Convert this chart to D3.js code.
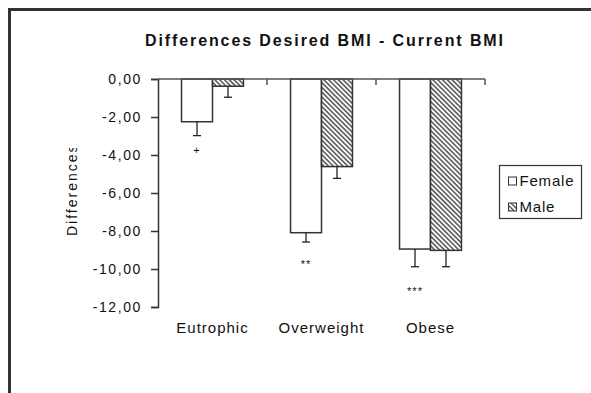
<!DOCTYPE html>
<html>
<head>
<meta charset="utf-8">
<script src="https://cdn.jsdelivr.net/npm/d3@7"></script>
<style>
  body { margin: 0; background: #fff; }
  svg text { font-family: "Liberation Sans", Arial, sans-serif; fill: #111; }
</style>
</head>
<body>
<svg width="591" height="393"></svg>
<script>
// chart data
var categories = ["Eutrophic", "Overweight", "Obese"];
var series = ["Female", "Male"];
var femaleValues = [-2.25, -8.09, -8.95];
var maleValues = [-0.38, -4.61, -9.02];
var femaleErrors = [0.73, 0.49, 0.93];
var maleErrors = [0.58, 0.62, 0.86];
var sigMarks = ["+", "**", "***"];       // shown under female bars
var sigLevels = [-3.74, -9.6, -11.0];    // where the marks sit on the y scale
var yTicks = [0, -2, -4, -6, -8, -10, -12];

var svg = d3.select("svg"),
    width = +svg.attr("width"),
    height = +svg.attr("height");

var plotLeft = 158, plotRight = 485, plotTop = 79, plotBottom = 307;

// frame (only left and top edges are visible)
svg.append("path")
  .attr("d", "M9.5," + height + "V9.5H" + width)
  .attr("fill", "none")
  .attr("stroke", "#333")
  .attr("stroke-width", 3);

// hatch pattern for the male bars
var defs = svg.append("defs");
var pat = defs.append("pattern")
  .attr("id", "hatch")
  .attr("patternUnits", "userSpaceOnUse")
  .attr("width", 3.4)
  .attr("height", 3.4)
  .attr("patternTransform", "rotate(-45)");
pat.append("rect").attr("width", 3.4).attr("height", 3.4).attr("fill", "#fff");
pat.append("line")
  .attr("x1", 0.8).attr("x2", 0.8).attr("y1", 0).attr("y2", 3.4)
  .attr("stroke", "#444").attr("stroke-width", 1.4);

// the original cuts the top of the y label off
defs.append("clipPath").attr("id", "ylabclip")
  .append("rect").attr("x", 0).attr("y", 148).attr("width", 150).attr("height", 200);

// scales
var x = d3.scaleBand().domain(categories).range([plotLeft, plotRight]).padding(0);
var xSub = d3.scaleBand().domain(series).range([0, x.bandwidth()]).paddingInner(0).paddingOuter(0.76);
var y = d3.scaleLinear().domain([-12, 0]).range([plotBottom, plotTop]);

var fmt = d3.formatLocale({decimal: ",", thousands: ".", grouping: [3], currency: ["", ""], minus: "-"}).format(".2f");

// title
svg.append("text")
  .attr("x", 324)
  .attr("y", 46)
  .attr("text-anchor", "middle")
  .attr("textLength", 358)
  .attr("lengthAdjust", "spacing")
  .style("font-weight", "bold")
  .style("font-size", "16px")
  .text("Differences  Desired BMI - Current BMI");

// y axis
var yAxis = svg.append("g")
  .attr("transform", "translate(" + plotLeft + ",0)")
  .call(d3.axisLeft(y).tickValues(yTicks).tickFormat(fmt).tickSize(7).tickPadding(9));
yAxis.select(".domain").attr("stroke", "#333").attr("stroke-width", 1.5);
yAxis.selectAll(".tick line").attr("stroke", "#333").attr("stroke-width", 1.5);
yAxis.selectAll(".tick text")
  .style("font-size", "14px")
  .style("letter-spacing", "1.6px")
  .style("font-family", "'Liberation Sans', Arial, sans-serif")
  .attr("fill", "#111");

// y label
svg.append("g").attr("clip-path", "url(#ylabclip)")
  .append("text")
  .attr("transform", "translate(77,236) rotate(-90)")
  .style("font-size", "14px")
  .style("letter-spacing", "2px")
  .text("Differences");

// bars
var rows = categories.map(function(c, i) {
  return [
    {cat: c, s: "Female", v: femaleValues[i], e: femaleErrors[i]},
    {cat: c, s: "Male", v: maleValues[i], e: maleErrors[i]}
  ];
});

var groups = svg.append("g").selectAll("g")
  .data(rows)
  .join("g")
  .attr("transform", function(d) { return "translate(" + x(d[0].cat) + ",0)"; });

groups.selectAll("rect")
  .data(function(d) { return d; })
  .join("rect")
  .attr("x", function(d) { return xSub(d.s); })
  .attr("y", y(0))
  .attr("width", xSub.bandwidth())
  .attr("height", function(d) { return y(d.v) - y(0); })
  .attr("fill", function(d) { return d.s == "Male" ? "url(#hatch)" : "#fff"; })
  .attr("stroke", "#333")
  .attr("stroke-width", 1.5);

// error bars (downward only)
var err = groups.selectAll("g.err")
  .data(function(d) { return d; })
  .join("g").attr("class", "err");
err.append("line")
  .attr("x1", function(d) { return xSub(d.s) + xSub.bandwidth() / 2; })
  .attr("x2", function(d) { return xSub(d.s) + xSub.bandwidth() / 2; })
  .attr("y1", function(d) { return y(d.v); })
  .attr("y2", function(d) { return y(d.v - d.e); })
  .attr("stroke", "#222").attr("stroke-width", 1.3);
err.append("line")
  .attr("x1", function(d) { return xSub(d.s) + xSub.bandwidth() / 2 - 4; })
  .attr("x2", function(d) { return xSub(d.s) + xSub.bandwidth() / 2 + 4; })
  .attr("y1", function(d) { return y(d.v - d.e); })
  .attr("y2", function(d) { return y(d.v - d.e); })
  .attr("stroke", "#222").attr("stroke-width", 1.3);

// significance marks under the female bars
groups.append("text")
  .attr("x", xSub("Female") + xSub.bandwidth() / 2)
  .attr("y", function(d, i) { return y(sigLevels[i]) + (sigMarks[i] == "+" ? 3.5 : 6.5); })
  .attr("text-anchor", "middle")
  .style("font-size", "11px")
  .style("letter-spacing", "1px")
  .text(function(d, i) { return sigMarks[i]; });

// x axis along zero, ticks pointing down at band edges
var xAxis = svg.append("g").attr("transform", "translate(0," + y(0) + ")");
xAxis.append("line")
  .attr("x1", plotLeft).attr("x2", plotRight)
  .attr("stroke", "#555").attr("stroke-width", 1.5);
xAxis.selectAll("line.tk")
  .data(categories)
  .join("line").attr("class", "tk")
  .attr("x1", function(d) { return x(d) + x.bandwidth(); })
  .attr("x2", function(d) { return x(d) + x.bandwidth(); })
  .attr("y1", 0).attr("y2", 6)
  .attr("stroke", "#555").attr("stroke-width", 1.5);

// category labels
svg.append("g").selectAll("text")
  .data(categories)
  .join("text")
  .attr("x", function(d) { return x(d) + x.bandwidth() / 2; })
  .attr("y", 333)
  .attr("text-anchor", "middle")
  .style("font-size", "15px")
  .style("letter-spacing", "1px")
  .text(function(d) { return d; });

// legend
var legend = svg.append("g").attr("transform", "translate(499.5,165.5)");
legend.append("rect")
  .attr("width", 82).attr("height", 53)
  .attr("fill", "#fff").attr("stroke", "#333").attr("stroke-width", 1.2);
var li = legend.selectAll("g")
  .data(series)
  .join("g")
  .attr("transform", function(d, i) { return "translate(9," + (15 + i * 26) + ")"; });
li.append("rect")
  .attr("y", -3.5).attr("width", 8).attr("height", 8)
  .attr("fill", function(d) { return d == "Male" ? "url(#hatch)" : "#fff"; })
  .attr("stroke", "#333").attr("stroke-width", 1);
li.append("text")
  .attr("x", 11)
  .attr("y", 5.5)
  .style("font-size", "15px")
  .style("letter-spacing", "0.8px")
  .text(function(d) { return d; });
</script>
</body>
</html>
